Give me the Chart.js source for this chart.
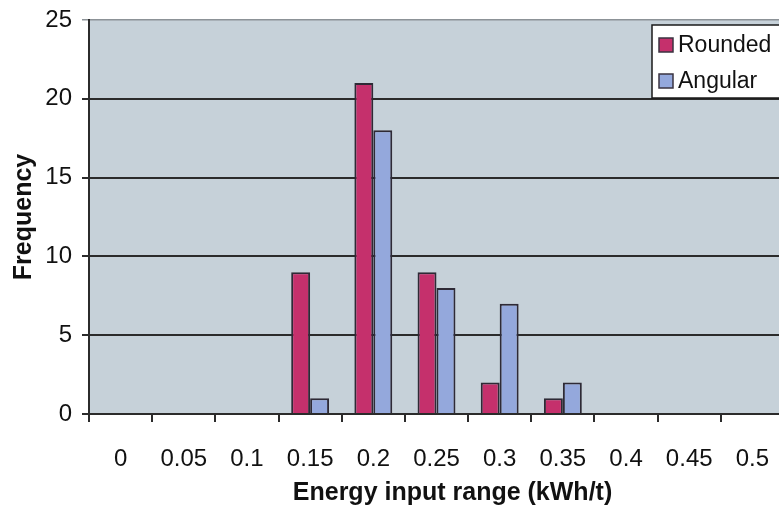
<!DOCTYPE html>
<html>
<head>
<meta charset="utf-8">
<style>
  html, body { margin: 0; padding: 0; background: #ffffff; overflow: hidden; }
  #wrap { width: 779px; height: 506px; position: relative; }
  canvas { display: block; }
</style>
<script src="https://cdn.jsdelivr.net/npm/chart.js@4/dist/chart.umd.min.js"></script>
</head>
<body>
<div id="wrap"><canvas id="c" width="779" height="506" style="width:779px;height:506px"></canvas></div>
<script>
const categories = ['0', '0.05', '0.1', '0.15', '0.2', '0.25', '0.3', '0.35', '0.4', '0.45', '0.5'];
const rounded = [0, 0, 0, 9, 21, 9, 2, 1, 0, 0, 0];
const angular = [0, 0, 0, 1, 18, 8, 7, 2, 0, 0, 0];
const yTicks = [0, 5, 10, 15, 20, 25];
const seriesNames = ['Rounded', 'Angular'];
const xTitle = 'Energy input range (kWh/t)';
const yTitle = 'Frequency';

const FONT = '"Liberation Sans", Arial, sans-serif';
const DARK = '#2b2b2b';

// the plot in the reference runs a few pixels past the right edge of the picture,
// and its x-axis title sits a little right of the plot's centre
const extendRight = {
  id: 'extendRight',
  afterLayout(chart) {
    const ext = 5;
    const a = chart.chartArea;
    a.right += ext;
    a.width = a.right - a.left;
    const x = chart.scales.x;
    x.right += ext;
    x.width += ext;
    x.configure();
    if (!x._titleShifted) {
      const orig = x.drawTitle;
      x.drawTitle = function () {
        const ctx = this.ctx;
        ctx.save();
        ctx.translate(16, 0);
        orig.call(this);
        ctx.restore();
      };
      x._titleShifted = true;
    }
  }
};

const plotBg = {
  id: 'plotBg',
  beforeDraw(chart) {
    const {ctx, chartArea: a} = chart;
    ctx.save();
    ctx.fillStyle = '#c6d1d9';
    ctx.fillRect(a.left, a.top, a.right - a.left, a.bottom - a.top);
    ctx.restore();
  }
};

const boxLegend = {
  id: 'boxLegend',
  afterDraw(chart) {
    const {ctx} = chart;
    const x = 652, y = 25, w = 160, h = 73;
    ctx.save();
    ctx.fillStyle = '#ffffff';
    ctx.fillRect(x, y, w, h);
    ctx.strokeStyle = '#1a1a1a';
    ctx.lineWidth = 1.5;
    ctx.strokeRect(x, y, w, h);
    ctx.font = '23px ' + FONT;
    ctx.textBaseline = 'middle';
    ctx.textAlign = 'left';
    chart.data.datasets.forEach((ds, i) => {
      const cy = 45 + i * 36;
      ctx.fillStyle = ds.backgroundColor;
      ctx.fillRect(659, cy - 7, 14, 14);
      ctx.strokeStyle = '#3a3340';
      ctx.lineWidth = 1.5;
      ctx.strokeRect(659, cy - 7, 14, 14);
      ctx.fillStyle = '#111111';
      ctx.fillText(ds.label, 678, cy + 1);
    });
    ctx.restore();
  }
};

new Chart(document.getElementById('c'), {
  type: 'bar',
  data: {
    labels: categories,
    datasets: [
      { label: seriesNames[0], data: rounded, backgroundColor: '#c5306c', borderColor: '#2e2a36', borderWidth: 2 },
      { label: seriesNames[1], data: angular, backgroundColor: '#94a8dc', borderColor: '#2e2a36', borderWidth: 2 }
    ]
  },
  options: {
    responsive: false,
    maintainAspectRatio: false,
    animation: false,
    devicePixelRatio: 1,
    layout: { padding: { top: 20, right: 0, bottom: 0, left: 0 } },
    datasets: { bar: { categoryPercentage: 0.6, barPercentage: 1.0 } },
    plugins: {
      legend: { display: false },
      tooltip: { enabled: false },
      title: { display: false }
    },
    scales: {
      x: {
        offset: true,
        grid: {
          offset: true,
          drawOnChartArea: false,
          drawTicks: true,
          tickLength: 8,
          color: DARK,
          lineWidth: 2
        },
        border: { display: true, color: DARK, width: 2 },
        ticks: {
          color: '#111111',
          font: { family: FONT, size: 24 },
          padding: 23,
          maxRotation: 0,
          autoSkip: false
        },
        title: {
          display: true,
          text: xTitle,
          color: '#111111',
          font: { family: FONT, size: 25, weight: 'bold', lineHeight: 1 },
          padding: { top: 0, bottom: 0 }
        },
        afterFit(scale) {
          scale.height = 92;
          scale.paddingLeft = 0;
          scale.paddingRight = 0;
        }
      },
      y: {
        min: 0,
        max: 25,
        afterBuildTicks(scale) { scale.ticks = yTicks.map(v => ({ value: v })); },
        grid: {
          drawTicks: true,
          tickLength: 7,
          color: (c) => (c.tick && c.tick.value === 25 ? '#8c9297' : DARK),
          lineWidth: (c) => (c.tick && c.tick.value === 25 ? 1.5 : 2)
        },
        border: { display: true, color: DARK, width: 2 },
        ticks: {
          color: '#111111',
          font: { family: FONT, size: 24 },
          padding: 10
        },
        title: {
          display: true,
          text: yTitle,
          color: '#111111',
          font: { family: FONT, size: 25, weight: 'bold', lineHeight: 1 },
          padding: { top: 12, bottom: 0 }
        },
        afterFit(scale) {
          scale.width = 89;
          scale.paddingTop = 0;
          scale.paddingBottom = 0;
        }
      }
    }
  },
  plugins: [extendRight, plotBg, boxLegend]
});
</script>
</body>
</html>
